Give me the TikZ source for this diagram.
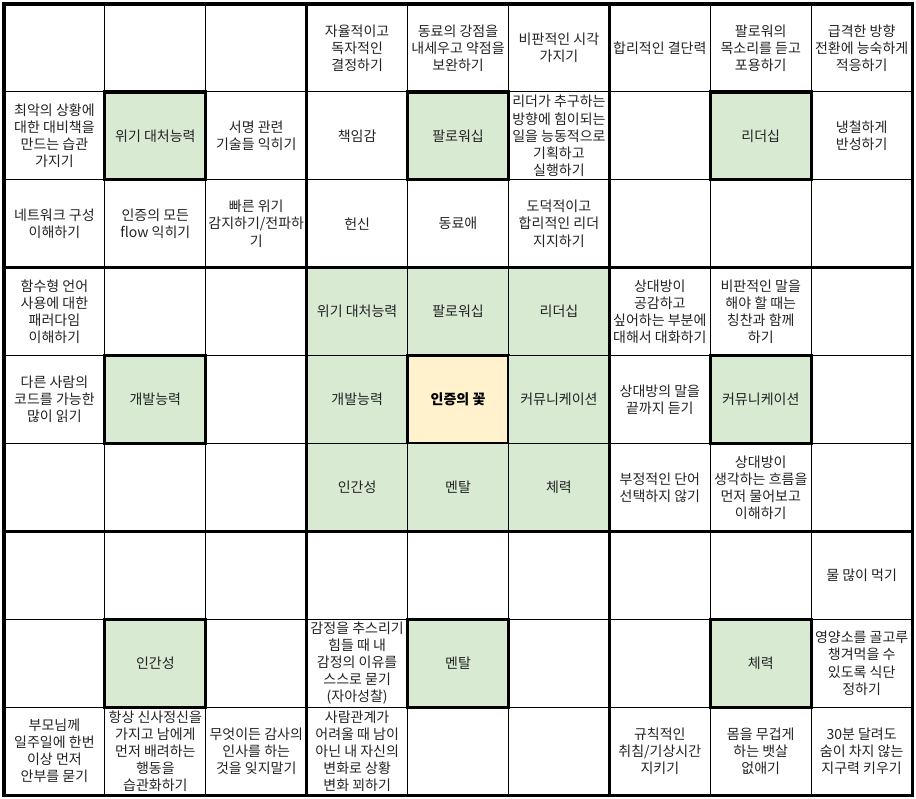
\documentclass[tikz,border=0pt]{standalone}
\usepackage{fontspec}
\setmainfont{Noto Sans CJK KR}
\definecolor{goalgreen}{HTML}{D9EAD3}
\definecolor{coreyellow}{HTML}{FFF2CC}
\definecolor{ink}{HTML}{222222}
\begin{document}
\begin{tikzpicture}
[x=75.67pt, y=-65.92pt, font=\fontsize{10.5}{12.8}\selectfont, text=ink]
\tikzstyle{cell}=[minimum width=75.67pt, minimum height=65.92pt, inner sep=0pt, align=center]
\tikzstyle{theme}=[cell, fill=goalgreen]
\tikzstyle{goal}=[theme, draw, line width=2.4pt]
\tikzstyle{core}=[cell, fill=coreyellow, draw, line width=2.4pt, text=black, font=\fontsize{10.5}{12.8}\selectfont\bfseries]
\useasboundingbox (-0.0396,-0.0455) rectangle (9.0387,9.0444);

% crisis block
\node[cell]  (C4) at (0.5,1.5) {최악의 상황에\\대한 대비책을\\만드는 습관\\가지기};
\node[goal]  (C5) at (1.5,1.5) {위기 대처능력};
\node[cell]  (C6) at (2.5,1.5) {서명 관련\\기술들 익히기};
\node[cell]  (C7) at (0.5,2.5) {네트워크 구성\\이해하기};
\node[cell]  (C8) at (1.5,2.5) {인증의 모든\\flow 익히기};
\node[cell]  (C9) at (2.5,2.5) {빠른 위기\\감지하기/전파하\\기};

% followership block
\node[cell]  (F1) at (3.5,0.5) {자율적이고\\독자적인\\결정하기};
\node[cell]  (F2) at (4.5,0.5) {동료의 강점을\\내세우고 약점을\\보완하기};
\node[cell]  (F3) at (5.5,0.5) {비판적인 시각\\가지기};
\node[cell]  (F4) at (3.5,1.5) {책임감};
\node[goal]  (F5) at (4.5,1.5) {팔로워십};
\node[cell]  (F6) at (5.5,1.5) {리더가 추구하는\\방향에 힘이되는\\일을 능동적으로\\기획하고\\실행하기};
\node[cell]  (F7) at (3.5,2.5) {헌신};
\node[cell]  (F8) at (4.5,2.5) {동료애};
\node[cell]  (F9) at (5.5,2.5) {도덕적이고\\합리적인 리더\\지지하기};

% leadership block
\node[cell]  (L1) at (6.5,0.5) {합리적인 결단력};
\node[cell]  (L2) at (7.5,0.5) {팔로워의\\목소리를 듣고\\포용하기};
\node[cell]  (L3) at (8.5,0.5) {급격한 방향\\전환에 능숙하게\\적응하기};
\node[goal]  (L5) at (7.5,1.5) {리더십};
\node[cell]  (L6) at (8.5,1.5) {냉철하게\\반성하기};

% development block
\node[cell]  (D1) at (0.5,3.5) {함수형 언어\\사용에 대한\\패러다임\\이해하기};
\node[cell]  (D4) at (0.5,4.5) {다른 사람의\\코드를 가능한\\많이 읽기};
\node[goal]  (D5) at (1.5,4.5) {개발능력};

% core block
\node[theme] (K1) at (3.5,3.5) {위기 대처능력};
\node[theme] (K2) at (4.5,3.5) {팔로워십};
\node[theme] (K3) at (5.5,3.5) {리더십};
\node[theme] (K4) at (3.5,4.5) {개발능력};
\node[core]  (K5) at (4.5,4.5) {인증의 꽃};
\node[theme] (K6) at (5.5,4.5) {커뮤니케이션};
\node[theme] (K7) at (3.5,5.5) {인간성};
\node[theme] (K8) at (4.5,5.5) {멘탈};
\node[theme] (K9) at (5.5,5.5) {체력};

% communication block
\node[cell]  (M1) at (6.5,3.5) {상대방이\\공감하고\\싶어하는 부분에\\대해서 대화하기};
\node[cell]  (M2) at (7.5,3.5) {비판적인 말을\\해야 할 때는\\칭찬과 함께\\하기};
\node[cell]  (M4) at (6.5,4.5) {상대방의 말을\\끝까지 듣기};
\node[goal]  (M5) at (7.5,4.5) {커뮤니케이션};
\node[cell]  (M7) at (6.5,5.5) {부정적인 단어\\선택하지 않기};
\node[cell]  (M8) at (7.5,5.5) {상대방이\\생각하는 흐름을\\먼저 물어보고\\이해하기};

% humanity block
\node[goal]  (H5) at (1.5,7.5) {인간성};
\node[cell]  (H7) at (0.5,8.5) {부모님께\\일주일에 한번\\이상 먼저\\안부를 묻기};
\node[cell]  (H8) at (1.5,8.5) {항상 신사정신을\\가지고 남에게\\먼저 배려하는\\행동을\\습관화하기};
\node[cell]  (H9) at (2.5,8.5) {무엇이든 감사의\\인사를 하는\\것을 잊지말기};

% mental block
\node[cell]  (T4) at (3.5,7.5) {감정을 추스리기\\힘들 때 내\\감정의 이유를\\스스로 묻기\\(자아성찰)};
\node[goal]  (T5) at (4.5,7.5) {멘탈};
\node[cell]  (T7) at (3.5,8.5) {사람관계가\\어려울 때 남이\\아닌 내 자신의\\변화로 상황\\변화 꾀하기};

% stamina block
\node[cell]  (S3) at (8.5,6.5) {물 많이 먹기};
\node[goal]  (S5) at (7.5,7.5) {체력};
\node[cell]  (S6) at (8.5,7.5) {영양소를 골고루\\챙겨먹을 수\\있도록 식단\\정하기};
\node[cell]  (S7) at (6.5,8.5) {규칙적인\\취침/기상시간\\지키기};
\node[cell]  (S8) at (7.5,8.5) {몸을 무겁게\\하는 뱃살\\없애기};
\node[cell]  (S9) at (8.5,8.5) {30분 달려도\\숨이 차지 않는\\지구력 키우기};

% grid lines
\foreach \i in {0,...,9} {
  \draw[line width=0.75pt] (\i,0) -- (\i,9);
  \draw[line width=0.75pt] (0,\i) -- (9,\i);
}
\foreach \i in {0,3,6,9} {
  \draw[line width=2.4pt, line cap=rect] (\i,0) -- (\i,9);
  \draw[line width=2.4pt, line cap=rect] (0,\i) -- (9,\i);
}
\end{tikzpicture}
\end{document}
